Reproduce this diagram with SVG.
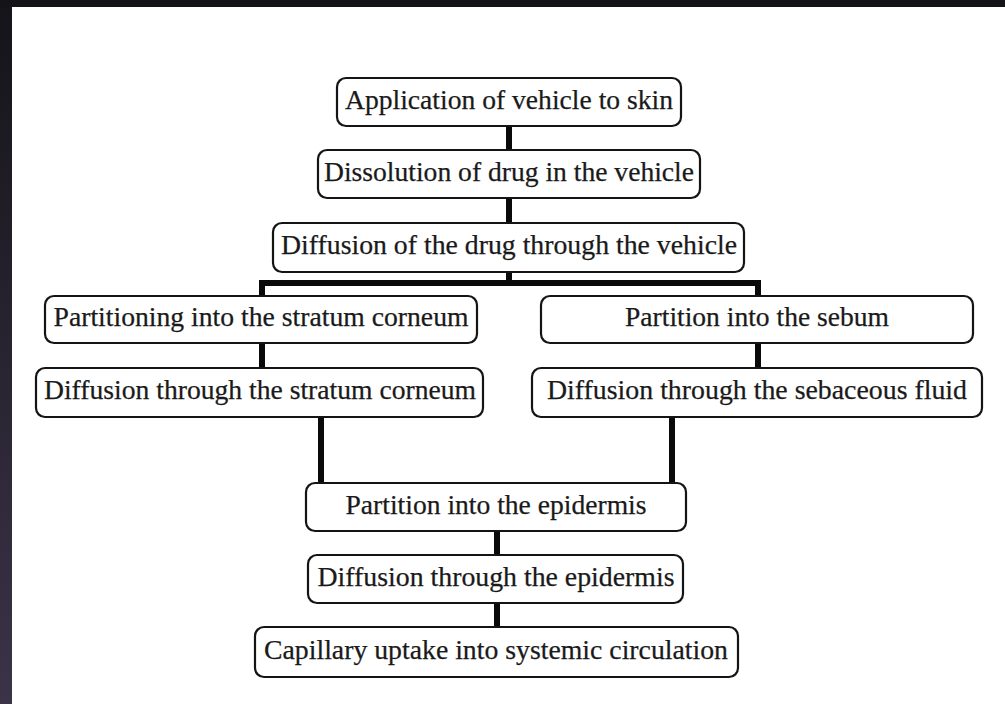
<svg xmlns="http://www.w3.org/2000/svg" width="1005" height="704" viewBox="0 0 1005 704">
  <defs>
    <linearGradient id="frame" x1="0" y1="0" x2="0" y2="1">
      <stop offset="0" stop-color="#151419"/>
      <stop offset="1" stop-color="#3b3348"/>
    </linearGradient>
    <style>
      .box { fill: #ffffff; stroke: #141414; stroke-width: 2.2; }
      .lbl { font-family: "Liberation Serif", "Times New Roman", serif; font-size: 28px; fill: #1a1a1a; stroke: #1a1a1a; stroke-width: 0.25; text-anchor: middle; }
      .con { stroke: #0a0a0a; stroke-width: 6; fill: none; stroke-linecap: butt; }
    </style>
  </defs>
  <rect x="0" y="0" width="1005" height="704" fill="url(#frame)"/>
  <rect x="0" y="0" width="1005" height="7" fill="#141318"/>
  <rect x="12" y="7" width="993" height="697" fill="#ffffff"/>

  <g id="connectors">
    <line class="con" x1="509" y1="126" x2="509" y2="150"/>
    <line class="con" x1="509" y1="198" x2="509" y2="223"/>
    <line class="con" x1="509" y1="272" x2="509" y2="283"/>
    <polyline class="con" points="262,296 262,283 758,283 758,296" stroke-linejoin="miter"/>
    <line class="con" x1="262" y1="343" x2="262" y2="368"/>
    <line class="con" x1="758" y1="343" x2="758" y2="368"/>
    <line class="con" x1="321" y1="417" x2="321" y2="483"/>
    <line class="con" x1="672" y1="417" x2="672" y2="483"/>
    <line class="con" x1="497" y1="531" x2="497" y2="555"/>
    <line class="con" x1="497" y1="603" x2="497" y2="627"/>
  </g>

  <g id="n1">
    <rect class="box" x="337" y="78" width="344" height="48" rx="9"/>
    <text class="lbl" x="509" y="109" textLength="328" lengthAdjust="spacingAndGlyphs">Application of vehicle to skin</text>
  </g>
  <g id="n2">
    <rect class="box" x="318" y="150" width="382" height="48" rx="9"/>
    <text class="lbl" x="509" y="181" textLength="370" lengthAdjust="spacingAndGlyphs">Dissolution of drug in the vehicle</text>
  </g>
  <g id="n3">
    <rect class="box" x="273" y="223" width="471" height="49" rx="9"/>
    <text class="lbl" x="509" y="254" textLength="456" lengthAdjust="spacingAndGlyphs">Diffusion of the drug through the vehicle</text>
  </g>
  <g id="n4">
    <rect class="box" x="45" y="296" width="432" height="47" rx="9"/>
    <text class="lbl" x="261" y="326" textLength="415" lengthAdjust="spacingAndGlyphs">Partitioning into the stratum corneum</text>
  </g>
  <g id="n5">
    <rect class="box" x="36" y="368" width="447" height="49" rx="9"/>
    <text class="lbl" x="260" y="399" textLength="432" lengthAdjust="spacingAndGlyphs">Diffusion through the stratum corneum</text>
  </g>
  <g id="n6">
    <rect class="box" x="541" y="296" width="432" height="47" rx="9"/>
    <text class="lbl" x="757" y="326" textLength="264" lengthAdjust="spacingAndGlyphs">Partition into the sebum</text>
  </g>
  <g id="n7">
    <rect class="box" x="532" y="368" width="450" height="49" rx="9"/>
    <text class="lbl" x="757" y="399" textLength="420" lengthAdjust="spacingAndGlyphs">Diffusion through the sebaceous fluid</text>
  </g>
  <g id="n8">
    <rect class="box" x="306" y="483" width="380" height="48" rx="9"/>
    <text class="lbl" x="496" y="514" textLength="301" lengthAdjust="spacingAndGlyphs">Partition into the epidermis</text>
  </g>
  <g id="n9">
    <rect class="box" x="308" y="555" width="375" height="48" rx="9"/>
    <text class="lbl" x="496" y="586" textLength="357" lengthAdjust="spacingAndGlyphs">Diffusion through the epidermis</text>
  </g>
  <g id="n10">
    <rect class="box" x="255" y="627" width="483" height="50" rx="9"/>
    <text class="lbl" x="496" y="659" textLength="464" lengthAdjust="spacingAndGlyphs">Capillary uptake into systemic circulation</text>
  </g>
</svg>
